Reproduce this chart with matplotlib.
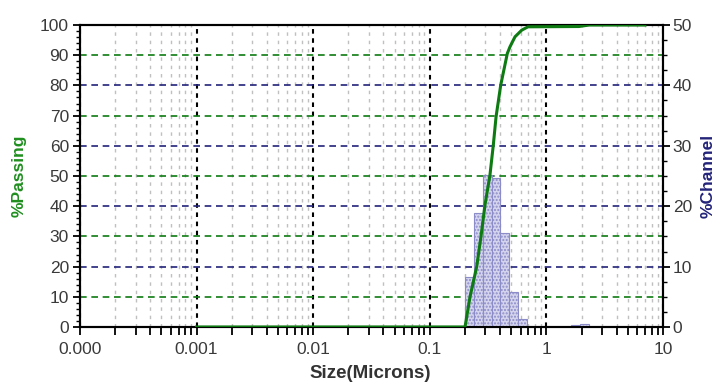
import matplotlib
matplotlib.use("Agg")
import matplotlib.pyplot as plt
from matplotlib.ticker import FixedLocator, MultipleLocator, LogLocator, NullFormatter

plt.rcParams['font.family'] = ['Liberation Sans', 'DejaVu Sans']

# Channel histogram (size bins in microns, % channel)
bin_left = [0.2004, 0.2395, 0.2876, 0.3437, 0.400, 0.4807, 0.5743, 1.62, 1.93]
bin_right = [0.2395, 0.2876, 0.3437, 0.400, 0.4807, 0.5743, 0.6777, 1.93, 2.33]
channel = [8.2, 18.9, 25.2, 24.6, 15.5, 5.85, 1.27, 0.3, 0.55]

# Cumulative % passing curve
size = [0.001, 0.2004, 0.2213, 0.2525, 0.2748, 0.2973, 0.328, 0.3506, 0.370,
        0.4057, 0.4623, 0.4874, 0.538, 0.6144, 0.695, 1.9, 2.33, 7.0]
passing = [0, 0, 10, 20, 30, 40.4, 50.3, 60.3, 69.6,
           80.1, 90.6, 92.8, 96.1, 98.3, 99.4, 99.5, 100, 100]

xticks = [1e-4, 1e-3, 1e-2, 1e-1, 1, 10]
xticklabels = ["0.000", "0.001", "0.01", "0.1", "1", "10"]
left_ticks = list(range(0, 101, 10))
right_ticks = list(range(0, 51, 10))

GREEN = '#0d7a12'
NAVY = '#23237a'
LBL_GREEN = '#1f8f1f'
TICKC = '#3a3a3a'

fig = plt.figure(figsize=(7.21, 3.85), dpi=100)
ax = fig.add_axes([80/721, 1-327/385, (663-80)/721, (327-25)/385])
ax2 = ax.twinx()

ax.set_xscale('log')
ax.set_xlim(1e-4, 10)
ax.set_ylim(0, 100)
ax2.set_ylim(0, 50)

ax.xaxis.set_major_locator(FixedLocator(xticks))
ax.set_xticklabels(xticklabels)
ax.xaxis.set_minor_locator(LogLocator(base=10, subs=range(2, 10), numticks=20))
ax.xaxis.set_minor_formatter(NullFormatter())

ax.yaxis.set_major_locator(FixedLocator(left_ticks))
ax.yaxis.set_minor_locator(MultipleLocator(2))
ax2.yaxis.set_major_locator(FixedLocator(right_ticks))
ax2.yaxis.set_minor_locator(MultipleLocator(2.5))

# grids
ax.grid(True, which='major', axis='x', color='black', linestyle=(0, (2.2, 2.2)), linewidth=1.5)
ax.grid(True, which='minor', axis='x', color='#c0c0c0', linestyle=(0, (2.5, 3.5)), linewidth=1.0)
ax.grid(True, which='major', axis='y', linestyle=(0, (4, 2.8)), linewidth=1.2)
for val, gl in zip(left_ticks, ax.get_ygridlines()):
    gl.set_color(GREEN if (val // 10) % 2 == 1 else NAVY)
    if val in (0, 100):
        gl.set_visible(False)
ax.set_axisbelow(True)

# bars
widths = [r - l for l, r in zip(bin_left, bin_right)]
ax2.bar(bin_left, channel, width=widths, align='edge', facecolor='#d4d4ee',
        edgecolor='#8c8cc8', hatch='.....', linewidth=0.8, zorder=2)

# passing curve on left scale
ax2.plot(size, passing, color=GREEN, linewidth=2.2, transform=ax.transData, zorder=3,
         solid_joinstyle='round')

for a in (ax, ax2):
    for s in a.spines.values():
        s.set_linewidth(1.5)
        s.set_color('black')

ax.tick_params(axis='both', which='major', direction='out', length=5, width=1.3,
               labelsize=12.5, labelcolor=TICKC, pad=3)
ax.tick_params(axis='x', which='major', length=6, pad=5)
ax.tick_params(axis='x', which='minor', direction='out', length=6, width=1.3)
ax.tick_params(axis='y', which='minor', direction='out', length=3, width=1.0)
ax2.tick_params(axis='y', which='major', direction='out', length=5, width=1.3,
                labelsize=12.5, labelcolor=TICKC, pad=2)
ax2.tick_params(axis='y', which='minor', direction='out', length=3, width=1.0)

ax.set_xlabel('Size(Microns)', fontsize=13.5, fontweight='bold', color='#333333')
ax.set_ylabel('%Passing', fontsize=12.5, fontweight='bold', color=LBL_GREEN)
ax2.set_ylabel('%Channel', fontsize=12.5, fontweight='bold', color=NAVY)
ax.xaxis.set_label_coords(0.497, (327 - 374) / 302)
ax.yaxis.set_label_coords((19 - 80) / 583, 0.5)
ax2.yaxis.set_label_coords((708 - 80) / 583, 0.5)
ax.xaxis.label.set_va('center')
ax.yaxis.label.set_va('center')
ax2.yaxis.label.set_va('center')

fig.savefig('out.png', dpi=100)
